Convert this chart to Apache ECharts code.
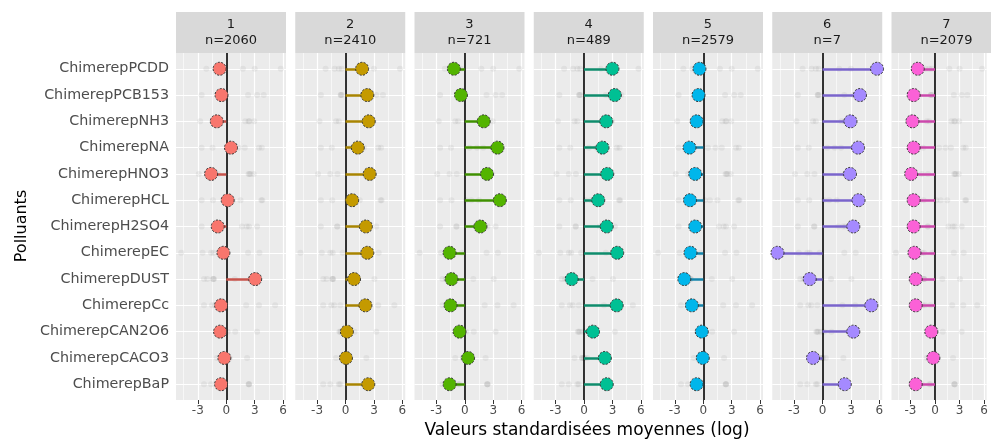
<!DOCTYPE html>
<html>
<head>
<meta charset="utf-8">
<script src="https://cdn.jsdelivr.net/npm/echarts@6/dist/echarts.min.js"></script>
<style>
  html, body { margin: 0; padding: 0; background: #fff; }
  #chart { width: 991px; height: 441px; }
</style>
</head>
<body>
<div id="chart"></div>
<script>
// polluants (top to bottom)
const categories = ['ChimerepPCDD', 'ChimerepPCB153', 'ChimerepNH3', 'ChimerepNA', 'ChimerepHNO3', 'ChimerepHCL',
  'ChimerepH2SO4', 'ChimerepEC', 'ChimerepDUST', 'ChimerepCc', 'ChimerepCAN2O6', 'ChimerepCACO3', 'ChimerepBaP']
const clusters = ['1', '2', '3', '4', '5', '6', '7']
const clusterN = [2060, 2410, 721, 489, 2579, 7, 2079]

// valeurs standardisées moyennes par cluster
const c1 = [-0.7, -0.5, -1.0, 0.5, -1.6, 0.15, -0.9, -0.3, 3.05, -0.55, -0.65, -0.2, -0.55]
const c2 = [1.75, 2.3, 2.45, 1.3, 2.55, 0.7, 2.15, 2.3, 0.9, 2.1, 0.15, 0.05, 2.4]
const c3 = [-1.15, -0.4, 2.0, 3.45, 2.35, 3.7, 1.65, -1.6, -1.4, -1.5, -0.55, 0.35, -1.6]
const c4 = [3.0, 3.25, 2.35, 1.95, 2.45, 1.5, 2.4, 3.5, -1.3, 3.45, 0.95, 2.2, 2.4]
const c5 = [-0.4, -0.5, -0.7, -1.45, -0.85, -1.4, -0.85, -1.35, -2.0, -1.2, -0.15, -0.05, -0.7]
const c6 = [5.75, 3.95, 2.95, 3.75, 2.9, 3.8, 3.25, -4.75, -1.35, 5.15, 3.25, -1.0, 2.35]
const c7 = [-2.1, -2.6, -2.75, -2.6, -2.9, -2.6, -2.6, -2.5, -2.35, -2.35, -0.45, -0.2, -2.35]
const values = [c1, c2, c3, c4, c5, c6, c7]

const xTicks = [-3, 0, 3, 6]
const xMinor = [-4.5, -1.5, 1.5, 4.5]

const colors = ['#F8766D', '#C49A00', '#53B400', '#00C094', '#00B6EB', '#A58AFF', '#FB61D7']
const segColors = ['#c8534b', '#a88400', '#3f9000', '#0e8c6c', '#1486ad', '#7a64cc', '#cc48ac']

const font = 'DejaVu Sans'
const panelLeft = 176, panelStep = 119.25, panelWidth = 110, panelTop = 53, panelHeight = 347
const nCat = categories.length
const yOf = i => nCat - i   // PCDD en haut
const yTicks = categories.map((c, i) => yOf(i))

let grids = [], xAxes = [], yAxes = [], series = [], graphics = []

clusters.forEach((cl, k) => {
  const left = panelLeft + k * panelStep
  grids.push({
    left: left, top: panelTop, width: panelWidth, height: panelHeight,
    show: true, backgroundColor: '#EBEBEB', borderWidth: 0
  })
  xAxes.push({
    gridIndex: k, type: 'value', min: -5.3, max: 6.3,
    axisLine: {show: false},
    splitLine: {show: false},
    axisTick: {show: true, customValues: xTicks, length: 4, lineStyle: {color: '#333', width: 1}},
    axisLabel: {customValues: xTicks, fontSize: 12, color: '#4d4d4d', margin: 5, fontFamily: font}
  })
  yAxes.push({
    gridIndex: k, type: 'value', min: 0.4, max: nCat + 0.6,
    axisLine: {show: false},
    splitLine: {show: false},
    axisTick: {show: k === 0, customValues: yTicks, length: 4, lineStyle: {color: '#333', width: 1}},
    axisLabel: {
      show: k === 0, customValues: yTicks, fontSize: 14.3, color: '#4d4d4d', margin: 7, fontFamily: font,
      formatter: v => categories[nCat - Math.round(v)]
    }
  })

  // grille blanche
  let gridLines = []
  xTicks.forEach(v => gridLines.push({xAxis: v, lineStyle: {width: 1.2}}))
  xMinor.forEach(v => gridLines.push({xAxis: v, lineStyle: {width: 0.6}}))
  yTicks.forEach(v => gridLines.push({yAxis: v, lineStyle: {width: 1.2}}))
  series.push({
    type: 'scatter', xAxisIndex: k, yAxisIndex: k, data: [], z: 1, silent: true,
    markLine: {
      silent: true, symbol: ['none', 'none'], label: {show: false}, z: 1, animation: false,
      lineStyle: {color: '#ffffff', type: 'solid'},
      data: gridLines
    }
  })

  // points gris : les autres clusters
  let ghost = []
  categories.forEach((c, i) => {
    values.forEach((vals, j) => ghost.push([vals[i], yOf(i)]))
  })
  series.push({
    type: 'scatter', xAxisIndex: k, yAxisIndex: k, data: ghost, z: 10, silent: true,
    symbolSize: 6, itemStyle: {color: 'rgba(150,150,150,0.18)'}
  })

  // ligne verticale à 0
  series.push({
    type: 'lines', coordinateSystem: 'cartesian2d', xAxisIndex: k, yAxisIndex: k, z: 11, silent: true,
    data: [{coords: [[0, 0.4], [0, nCat + 0.6]]}],
    lineStyle: {color: '#000000', width: 1.6, opacity: 1}
  })

  // segments
  series.push({
    type: 'lines', coordinateSystem: 'cartesian2d', xAxisIndex: k, yAxisIndex: k, z: 12, silent: true,
    data: values[k].map((v, i) => ({coords: [[0, yOf(i)], [v, yOf(i)]]})),
    lineStyle: {color: segColors[k], width: 2.5, opacity: 1}
  })

  // points
  series.push({
    type: 'scatter', xAxisIndex: k, yAxisIndex: k, z: 13,
    data: values[k].map((v, i) => [v, yOf(i)]),
    symbolSize: 13,
    itemStyle: {color: colors[k], borderColor: '#333', borderWidth: 1, borderType: [2, 1.5], opacity: 1}
  })

  // bandeau du facet
  graphics.push({
    type: 'rect', shape: {x: left, y: 12, width: panelWidth, height: 41}, style: {fill: '#D9D9D9'}
  })
  graphics.push({
    type: 'text', x: left + panelWidth / 2, y: 33,
    style: {
      text: cl + '\nn=' + clusterN[k], align: 'center', verticalAlign: 'middle',
      fontSize: 13, lineHeight: 16, fill: '#1a1a1a', fontFamily: font
    }
  })
})

// titres des axes
graphics.push({
  type: 'text', x: 587, y: 431,
  style: {text: 'Valeurs standardisées moyennes (log)', align: 'center', verticalAlign: 'middle',
    fontSize: 17, fill: '#000', fontFamily: font}
})
graphics.push({
  type: 'text', x: 22, y: 226, rotation: Math.PI / 2,
  style: {text: 'Polluants', align: 'center', verticalAlign: 'middle', fontSize: 16, fill: '#000', fontFamily: font}
})

let option = {
  animation: false,
  backgroundColor: '#ffffff',
  grid: grids,
  xAxis: xAxes,
  yAxis: yAxes,
  series: series,
  graphic: graphics
}

let myChart = echarts.init(document.getElementById('chart'))
myChart.setOption(option)
</script>
</body>
</html>
